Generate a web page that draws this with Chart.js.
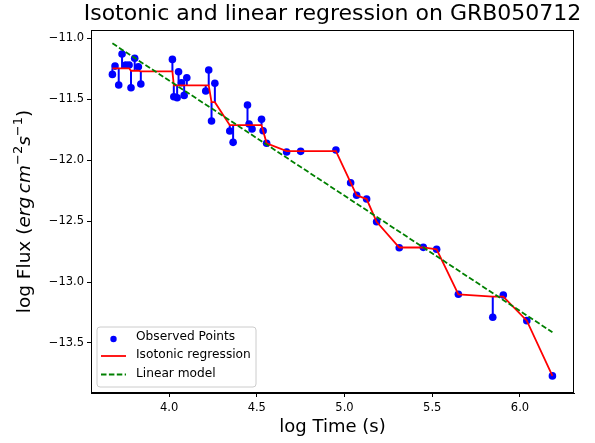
<!DOCTYPE html>
<html><head><meta charset="utf-8">
<script src="https://cdn.jsdelivr.net/npm/chart.js@4.4.0/dist/chart.umd.min.js"></script>
<style>html,body{margin:0;padding:0;background:#fff}#wrap{width:595px;height:443px}</style>
</head><body><div id="wrap"><canvas id="c" width="595" height="443"></canvas></div>
<script>
// ---- data ----
const logTime = [3.677,3.692,3.713,3.732,3.753,3.772,3.783,3.804,3.825,3.839,
  4.019,4.027,4.046,4.054,4.071,4.086,4.101,4.209,4.226,4.242,4.261,
  4.346,4.365,4.447,4.456,4.473,4.527,4.536,4.556,4.670,4.750,4.951,
  5.035,5.069,5.126,5.183,5.312,5.449,5.525,5.649,5.845,5.905,6.039,6.185];
const logFlux = [-11.298,-11.230,-11.385,-11.131,-11.221,-11.221,-11.407,-11.166,-11.235,-11.377,
  -11.175,-11.481,-11.489,-11.276,-11.367,-11.470,-11.325,-11.434,-11.262,-11.680,-11.371,
  -11.762,-11.855,-11.549,-11.705,-11.746,-11.666,-11.760,-11.863,-11.934,-11.929,-11.918,
  -12.186,-12.289,-12.320,-12.506,-12.719,-12.716,-12.732,-13.101,-13.289,-13.107,-13.317,-13.770];
const isoFit = [-11.248,-11.248,-11.248,-11.248,-11.248,-11.248,-11.268,-11.268,-11.268,-11.274,
  -11.274,-11.388,-11.388,-11.388,-11.388,-11.388,-11.388,-11.388,-11.388,-11.526,-11.526,
  -11.714,-11.714,-11.714,-11.714,-11.714,-11.714,-11.760,-11.863,-11.927,-11.927,-11.927,
  -12.186,-12.289,-12.320,-12.506,-12.717,-12.717,-12.732,-13.101,-13.120,-13.120,-13.317,-13.770];
const linTime = [3.677, 6.185];
const linFlux = [-11.043, -13.412];
const xTicks = [4.0, 4.5, 5.0, 5.5, 6.0];
const yTicks = [-13.5, -13.0, -12.5, -12.0, -11.5, -11.0];
const seriesNames = ['Observed Points', 'Isotonic regression', 'Linear model'];
const titleText = 'Isotonic and linear regression on GRB050712';
const xLabel = 'log Time (s)';

const FONT = "'DejaVu Sans', sans-serif";
const fmt = v => Number(v).toFixed(1).replace('-', '\u2212');

const obsPts = logTime.map((x, i) => ({x, y: logFlux[i]}));
const isoPts = logTime.map((x, i) => ({x, y: isoFit[i]}));
const linPts = linTime.map((x, i) => ({x, y: linFlux[i]}));
const segPts = [];
logTime.forEach((x, i) => { segPts.push({x, y: logFlux[i]}, {x, y: isoFit[i]}, {x, y: null}); });

const frameAndLabels = {
  id: 'frameAndLabels',
  afterDatasetsDraw(chart) {
    const {ctx, chartArea: a} = chart;
    ctx.save();
    // axes box
    ctx.strokeStyle = '#000'; ctx.lineWidth = 1;
    ctx.strokeRect(Math.round(a.left) + 0.5, Math.round(a.top) + 0.5,
      Math.round(a.right - a.left) - 1, Math.round(a.bottom - a.top) - 1);
    // title centred over the axes
    ctx.fillStyle = '#000'; ctx.font = '22px ' + FONT; ctx.textAlign = 'center'; ctx.textBaseline = 'middle';
    ctx.fillText(titleText, (a.left + a.right) / 2, 14);
    // legend
    const lx = 97, ly = 327, lw = 159, lh = 60, r = 3;
    ctx.beginPath();
    ctx.moveTo(lx + r, ly); ctx.lineTo(lx + lw - r, ly); ctx.arcTo(lx + lw, ly, lx + lw, ly + r, r);
    ctx.lineTo(lx + lw, ly + lh - r); ctx.arcTo(lx + lw, ly + lh, lx + lw - r, ly + lh, r);
    ctx.lineTo(lx + r, ly + lh); ctx.arcTo(lx, ly + lh, lx, ly + lh - r, r);
    ctx.lineTo(lx, ly + r); ctx.arcTo(lx, ly, lx + r, ly, r); ctx.closePath();
    ctx.fillStyle = 'rgba(255,255,255,0.8)'; ctx.fill();
    ctx.strokeStyle = '#cccccc'; ctx.lineWidth = 1; ctx.stroke();
    const rows = [337, 355, 373.5];
    ctx.fillStyle = '#0000ff';
    ctx.beginPath(); ctx.arc(113.5, rows[0] + 2, 3.2, 0, Math.PI * 2); ctx.fill();
    ctx.strokeStyle = '#ff0000'; ctx.lineWidth = 1.8;
    ctx.beginPath(); ctx.moveTo(101, rows[1] + 1); ctx.lineTo(126, rows[1] + 1); ctx.stroke();
    ctx.strokeStyle = '#008000'; ctx.setLineDash([5.5, 2.4]);
    ctx.beginPath(); ctx.moveTo(101, rows[2] + 1); ctx.lineTo(126, rows[2] + 1); ctx.stroke();
    ctx.setLineDash([]);
    ctx.fillStyle = '#000'; ctx.font = '12.2px ' + FONT; ctx.textBaseline = 'middle'; ctx.textAlign = 'left';
    seriesNames.forEach((n, i) => ctx.fillText(n, 136, rows[i]));
    // y-axis title with math parts
    const base = 18.5, sup = 13;
    const parts = [
      {t: 'log Flux (', font: base + 'px ' + FONT, dy: 0},
      {t: 'erg', font: 'italic ' + base + 'px ' + FONT, dy: 0},
      {t: '\u2009', font: base + 'px ' + FONT, dy: 0},
      {t: 'cm', font: 'italic ' + base + 'px ' + FONT, dy: 0},
      {t: '\u22122', font: sup + 'px ' + FONT, dy: -7.8},
      {t: 's', font: 'italic ' + base + 'px ' + FONT, dy: 0},
      {t: '\u22121', font: sup + 'px ' + FONT, dy: -7.8},
      {t: ')', font: base + 'px ' + FONT, dy: 0}
    ];
    let total = 0;
    parts.forEach(p => { ctx.font = p.font; p.w = ctx.measureText(p.t).width; total += p.w; });
    ctx.translate(30, (a.top + a.bottom) / 2);
    ctx.rotate(-Math.PI / 2);
    ctx.textBaseline = 'alphabetic'; ctx.textAlign = 'left'; ctx.fillStyle = '#000';
    let x = -total / 2;
    parts.forEach(p => { ctx.font = p.font; ctx.fillText(p.t, x, p.dy); x += p.w; });
    ctx.restore();
  }
};

const tickFont = {family: FONT, size: 11.5};
new Chart(document.getElementById('c'), {
  type: 'scatter',
  data: {
    datasets: [
      {label: seriesNames[2], data: linPts, showLine: true, borderColor: '#008000', borderWidth: 1.8,
        borderDash: [5.5, 2.4], pointRadius: 0, order: 0},
      {label: seriesNames[1], data: isoPts, showLine: true, borderColor: '#ff0000', borderWidth: 1.8,
        pointRadius: 0, order: 1},
      {label: seriesNames[0], data: obsPts, showLine: false, backgroundColor: '#0000ff', borderColor: '#0000ff',
        borderWidth: 0, pointRadius: 3.8, order: 2},
      {label: 'segments', data: segPts, showLine: true, spanGaps: false, borderColor: '#0000ff', borderWidth: 2,
        pointRadius: 0, order: 3}
    ]
  },
  options: {
    responsive: false, animation: false, devicePixelRatio: 1,
    layout: {padding: {left: 0, right: 21, top: 30, bottom: 0}},
    plugins: {
      legend: {display: false}, tooltip: {enabled: false}, title: {display: false}
    },
    scales: {
      x: {
        type: 'linear', min: 3.555, max: 6.308,
        afterBuildTicks: s => { s.ticks = xTicks.map(v => ({value: v})); },
        afterFit: s => { s.height = 50; },
        ticks: {color: '#000', font: tickFont, padding: 4, maxRotation: 0, callback: v => fmt(v)},
        grid: {drawOnChartArea: false, drawTicks: true, tickLength: 4, tickColor: '#000'},
        border: {display: true, color: '#000', width: 1},
        title: {display: true, text: xLabel, color: '#000', font: {family: FONT, size: 18}, padding: {top: 0, bottom: 5}}
      },
      y: {
        type: 'linear', min: -13.91, max: -10.934,
        afterBuildTicks: s => { s.ticks = yTicks.map(v => ({value: v})); },
        afterFit: s => { s.width = 91; },
        ticks: {color: '#000', font: tickFont, padding: 3, callback: v => fmt(v)},
        grid: {drawOnChartArea: false, drawTicks: true, tickLength: 4, tickColor: '#000'},
        border: {display: true, color: '#000', width: 1},
        title: {display: false}
      }
    }
  },
  plugins: [frameAndLabels]
});
</script></body></html>
